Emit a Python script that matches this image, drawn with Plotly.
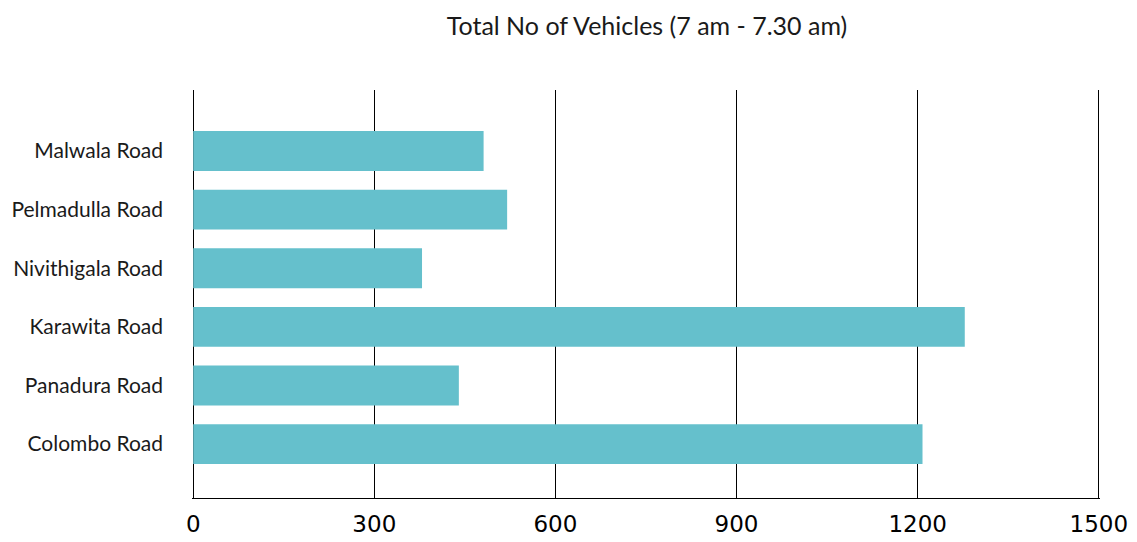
import plotly.graph_objects as go

roads = ['Colombo Road', 'Panadura Road', 'Karawita Road',
         'Nivithigala Road', 'Pelmadulla Road', 'Malwala Road']
vehicles = [1208, 440, 1278, 379, 520, 481]
x_ticks = [0, 300, 600, 900, 1200, 1500]

fig = go.Figure()
fig.add_trace(go.Bar(
    x=vehicles,
    y=roads,
    orientation='h',
    width=0.68,
    marker=dict(color='#65c0cc', line=dict(width=0)),
))

# page body has an 8px margin, so the figure is a bit smaller than the window
fig.update_layout(
    title=dict(text='Total No of Vehicles (7 am - 7.30 am)', x=0.566, xanchor='center',
               y=0.966, yanchor='middle',
               font=dict(family='Lato', size=25, color='#1a1a1a')),
    width=1129,
    height=534,
    margin=dict(l=184, r=37, t=82, b=44),
    paper_bgcolor='white',
    plot_bgcolor='white',
    showlegend=False,
    xaxis=dict(
        range=[-2, 1502],
        tickvals=x_ticks,
        showgrid=True,
        gridcolor='black',
        gridwidth=1,
        zeroline=False,
        showline=True,
        linecolor='black',
        linewidth=1,
        ticks='',
        automargin=False,
        ticklabelstandoff=5,
        tickfont=dict(family='DejaVu Sans', size=23, color='black'),
    ),
    yaxis=dict(
        range=[-0.92, 6.04],
        showgrid=False,
        zeroline=False,
        showline=False,
        ticks='',
        automargin=False,
        ticklabelstandoff=28,
        tickfont=dict(family='Lato', size=21, color='#1a1a1a'),
    ),
)

fig.write_html('out.html')
